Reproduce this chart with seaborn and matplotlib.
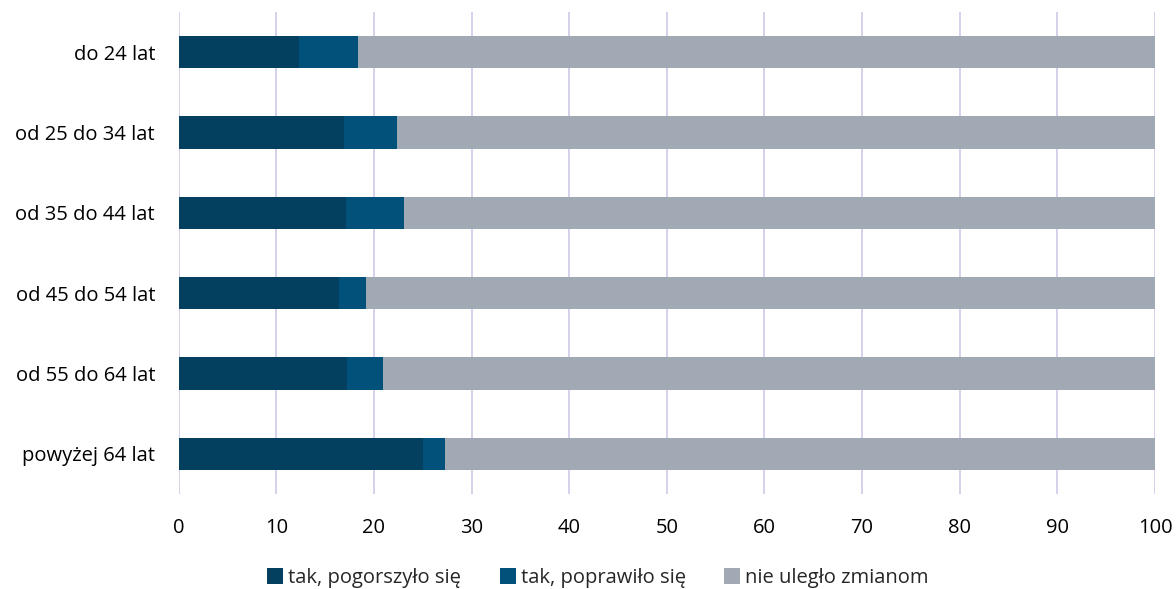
import matplotlib
matplotlib.use("Agg")
import matplotlib.pyplot as plt
import seaborn as sns
import pandas as pd
from matplotlib.patches import Patch

categories = ["do 24 lat", "od 25 do 34 lat", "od 35 do 44 lat",
              "od 45 do 54 lat", "od 55 do 64 lat", "powyżej 64 lat"]
worse = [12.3, 16.9, 17.1, 16.4, 17.2, 25.0]
better = [6.1, 5.5, 6.0, 2.8, 3.7, 2.3]
unchanged = [round(100 - w - b, 1) for w, b in zip(worse, better)]
series_names = ["tak, pogorszyło się", "tak, poprawiło się", "nie uległo zmianom"]
x_ticks = [0, 10, 20, 30, 40, 50, 60, 70, 80, 90, 100]

colors = ["#033f5e", "#02517a", "#a0a9b4"]

sns.set_theme(style="white")
plt.rcParams["font.family"] = ["Open Sans", "DejaVu Sans"]

df = pd.DataFrame({"cat": categories, "worse": worse,
                   "better": better, "unchanged": unchanged})
df["cum2"] = df["worse"] + df["better"]
df["cum3"] = df["cum2"] + df["unchanged"]

fig = plt.figure(figsize=(11.76, 5.89), dpi=100)
ax = fig.add_axes([178.7 / 1176, 1 - 494 / 589, (1155 - 178.7) / 1176, 482 / 589])

ax.grid(axis="x", color="#d3cdea", linewidth=1.3, zorder=0)
ax.set_axisbelow(True)

# stacked bars: draw cumulative totals back to front
for col, c in zip(["cum3", "cum2", "worse"], colors[::-1]):
    sns.barplot(data=df, x=col, y="cat", color=c, width=0.4,
                orient="h", ax=ax, zorder=2, saturation=1,
                edgecolor="none", linewidth=0)

ax.set_xlim(0, 100)
ax.set_ylim(5.5, -0.5)
ax.set_xticks(x_ticks)
ax.set_xticklabels([str(t) for t in x_ticks])
ax.set_xlabel("")
ax.set_ylabel("")
for s in ax.spines.values():
    s.set_visible(False)
ax.tick_params(axis="both", length=0, labelsize=14.5, colors="#000000")
ax.tick_params(axis="y", pad=17)
ax.tick_params(axis="x", pad=17)

handles = [Patch(facecolor=c, edgecolor="none") for c in colors]
fig.legend(handles, series_names, loc="center", bbox_to_anchor=(598 / 1176, 1 - 578 / 589),
           ncol=3, frameon=False, fontsize=14.5, handlelength=0.8, handleheight=0.8,
           handletextpad=0.25, columnspacing=1.9)

fig.savefig("out.png", dpi=100)
